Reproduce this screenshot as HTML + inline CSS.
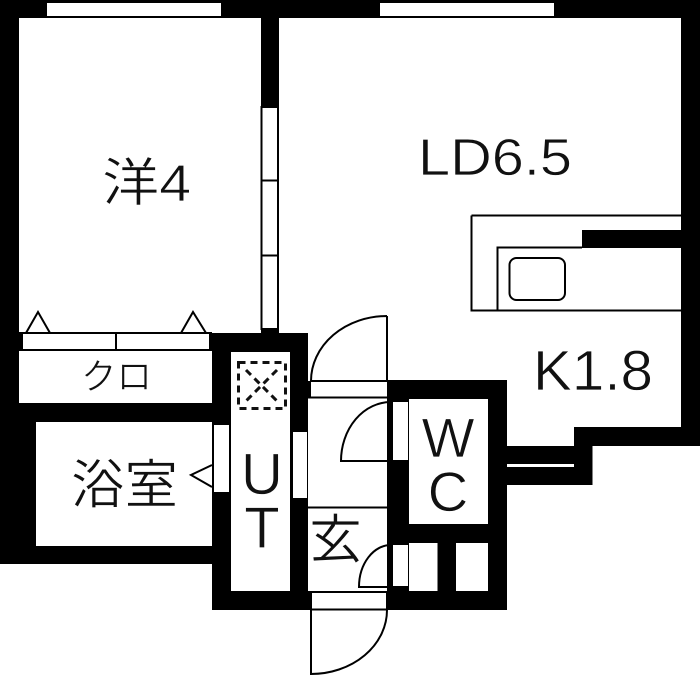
<!DOCTYPE html>
<html lang="ja"><head><meta charset="utf-8"><title>間取り図</title>
<style>
html,body{margin:0;padding:0;background:#fff;width:700px;height:676px;overflow:hidden}
svg{display:block}
text{font-family:"Liberation Sans","Noto Sans CJK JP",sans-serif;fill:#111;stroke:#fff;stroke-width:.7px}
</style></head><body>
<svg width="700" height="676" viewBox="0 0 700 676" xmlns="http://www.w3.org/2000/svg">
<rect width="700" height="676" fill="#fff"/>
<!-- walls -->
<g fill="#000">
<rect x="0" y="0" width="700" height="18"/>
<rect x="0" y="0" width="19" height="564"/>
<rect x="19" y="333" width="4" height="18"/>
<rect x="0" y="403" width="36" height="161"/>
<rect x="0" y="403" width="231" height="19"/>
<rect x="0" y="546" width="231" height="18"/>
<rect x="261" y="0" width="18" height="108"/>
<rect x="681" y="0" width="19" height="446"/>
<rect x="574" y="427" width="126" height="19"/>
<rect x="574" y="427" width="18.500" height="58"/>
<rect x="500" y="446" width="92.500" height="39"/>
<rect x="212" y="333" width="96" height="277"/>
<rect x="209" y="333" width="4" height="18"/>
<rect x="261" y="329" width="18" height="6"/>
<rect x="387" y="380" width="120" height="230"/>
<rect x="290" y="591" width="100" height="19"/>
<rect x="306" y="381" width="5" height="17"/>
</g>
<!-- interiors -->
<g fill="#fff">
<rect x="231" y="352" width="59" height="239"/>
<rect x="409" y="399" width="79" height="125"/>
<rect x="409" y="543" width="28.500" height="48"/>
<rect x="456" y="543" width="32" height="48"/>
<rect x="507" y="464" width="67" height="3"/>
<rect x="19" y="352" width="193" height="51"/>
<rect x="36" y="422" width="176" height="124"/>
<rect x="47" y="3" width="174" height="13"/>
<rect x="380" y="3" width="174" height="13"/>
<rect x="214" y="425" width="15" height="67"/>
<rect x="293" y="432" width="14" height="66"/>
<rect x="393" y="402" width="15" height="58"/>
<rect x="393" y="545" width="15" height="41"/>
<rect x="312" y="593" width="74" height="16"/>
</g>
<!-- sliding door -->
<rect x="261.500" y="107" width="16.500" height="222" fill="#fff" stroke="#000" stroke-width="2"/>
<!-- thin lines -->
<g fill="none" stroke="#000" stroke-width="2">
<path d="M19 333H212M23 350H209M116 333V350"/>
<path d="M262 180.500H277M262 255.500H277"/>
<path d="M26 333L38 312L50 333M181 333L193 312L206 333"/>
<path d="M212 465L191 475L212 487"/>
<path d="M308 397.500H387M311 381H387M387 316V381M311 381A76 65 0 0 1 387 316"/>
<path d="M391 402V461H341A50 59 0 0 1 391 402"/>
<path d="M308 507.500H391"/>
<path d="M391 545V587H359A32 42 0 0 1 391 545"/>
<path d="M308 592H387M311 609.500H387M311 610V674A76 64 0 0 0 387 610"/>
<path d="M471.500 215.500H681M471.500 215.500V310.500H681M497.500 310V247.500H582"/>
<rect x="509.500" y="258" width="55.500" height="42" rx="7"/>
</g>
<rect x="582" y="230" width="100" height="18" fill="#000"/>
<!-- vent -->
<g fill="none" stroke="#111" stroke-width="3">
<rect x="238.500" y="362.500" width="47" height="46" stroke-dasharray="7 5"/>
<path d="M246 370L277 401M277 370L246 401" stroke-dasharray="7 5"/>
</g>
<!-- labels -->
<text x="102" y="201" font-size="52" textLength="89" lengthAdjust="spacingAndGlyphs">洋4</text>
<text x="418" y="175" font-size="52" textLength="154" lengthAdjust="spacingAndGlyphs">LD6.5</text>
<text x="533" y="390" font-size="57" textLength="120" lengthAdjust="spacingAndGlyphs">K1.8</text>
<text x="81" y="389" font-size="36" textLength="71" lengthAdjust="spacingAndGlyphs">クロ</text>
<text x="71" y="503" font-size="53" textLength="107" lengthAdjust="spacingAndGlyphs">浴室</text>
<text x="309" y="558" font-size="53">玄</text>
<text x="262" y="494" font-size="58" text-anchor="middle">U</text>
<text x="262" y="548" font-size="58" text-anchor="middle">T</text>
<text x="448" y="457" font-size="56" text-anchor="middle">W</text>
<text x="448" y="511" font-size="56" text-anchor="middle">C</text>
</svg>
</body></html>
